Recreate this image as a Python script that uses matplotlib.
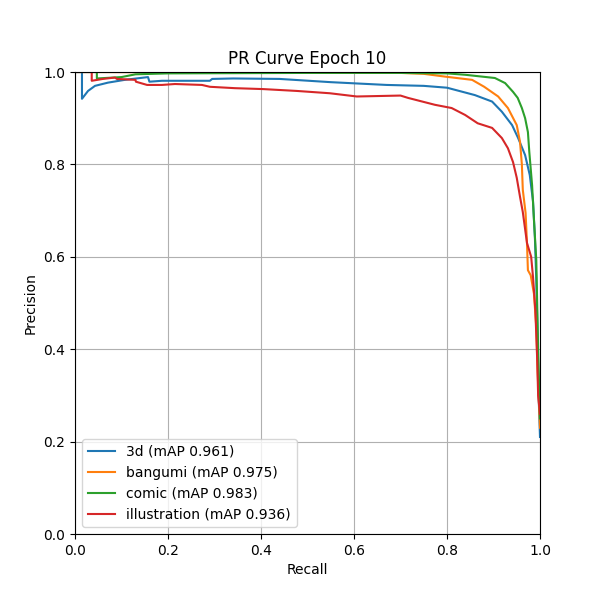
import matplotlib
matplotlib.use("Agg")
import matplotlib.pyplot as plt

# recall / precision points
r_3d = [0, 0.015, 0.015, 0.028, 0.043, 0.071, 0.107, 0.157, 0.16, 0.187, 0.29, 0.295,
        0.34, 0.44, 0.55, 0.67, 0.75, 0.80, 0.86, 0.897, 0.918, 0.94, 0.953, 0.968,
        0.978, 0.985, 0.989, 0.992, 0.995, 0.997, 1.0]
p_3d = [1.0, 1.0, 0.942, 0.959, 0.970, 0.977, 0.983, 0.989, 0.979, 0.981, 0.981, 0.985,
        0.986, 0.985, 0.978, 0.972, 0.970, 0.966, 0.950, 0.936, 0.914, 0.885, 0.857, 0.82,
        0.777, 0.72, 0.643, 0.55, 0.42, 0.30, 0.21]

r_bangumi = [0, 0.7, 0.75, 0.796, 0.854, 0.88, 0.91, 0.931, 0.95, 0.957, 0.961, 0.963,
             0.969, 0.972, 0.974, 0.98, 0.987, 0.992, 0.995, 0.997, 1.0]
p_bangumi = [1.0, 0.998, 0.996, 0.99, 0.983, 0.968, 0.947, 0.922, 0.885, 0.849, 0.80, 0.745,
             0.695, 0.63, 0.571, 0.56, 0.52, 0.448, 0.35, 0.30, 0.23]

r_comic = [0, 0.047, 0.047, 0.1, 0.13, 0.2, 0.5, 0.7, 0.8, 0.839, 0.903, 0.925, 0.942,
           0.952, 0.961, 0.968, 0.974, 0.977, 0.983, 0.987, 0.992, 0.996, 1.0]
p_comic = [1.0, 1.0, 0.986, 0.989, 0.995, 0.997, 0.998, 0.998, 0.997, 0.994, 0.987, 0.976,
           0.957, 0.944, 0.922, 0.90, 0.87, 0.827, 0.755, 0.68, 0.593, 0.40, 0.25]

r_illus = [0, 0.036, 0.036, 0.06, 0.086, 0.09, 0.13, 0.131, 0.155, 0.187, 0.215, 0.273,
           0.29, 0.344, 0.405, 0.477, 0.548, 0.606, 0.70, 0.716, 0.774, 0.81, 0.839, 0.866,
           0.897, 0.918, 0.931, 0.942, 0.95, 0.957, 0.963, 0.972, 0.981, 0.985, 0.99, 0.994,
           0.996, 1.0]
p_illus = [1.0, 1.0, 0.981, 0.985, 0.988, 0.985, 0.983, 0.979, 0.972, 0.972, 0.974, 0.972,
           0.968, 0.965, 0.963, 0.959, 0.954, 0.947, 0.949, 0.944, 0.929, 0.922, 0.907, 0.889,
           0.879, 0.857, 0.835, 0.805, 0.771, 0.73, 0.697, 0.63, 0.60, 0.556, 0.485, 0.377,
           0.30, 0.26]

labels = ["3d (mAP 0.961)", "bangumi (mAP 0.975)", "comic (mAP 0.983)", "illustration (mAP 0.936)"]

fig, ax = plt.subplots(figsize=(6, 6), dpi=100)
ax.plot(r_3d, p_3d, label=labels[0])
ax.plot(r_bangumi, p_bangumi, label=labels[1])
ax.plot(r_comic, p_comic, label=labels[2])
ax.plot(r_illus, p_illus, label=labels[3])
ax.set_xlim(0, 1)
ax.set_ylim(0, 1)
ax.set_xlabel("Recall")
ax.set_ylabel("Precision")
ax.set_title("PR Curve Epoch 10")
ax.grid()
ax.legend(loc="lower left")

fig.savefig("out.png")
